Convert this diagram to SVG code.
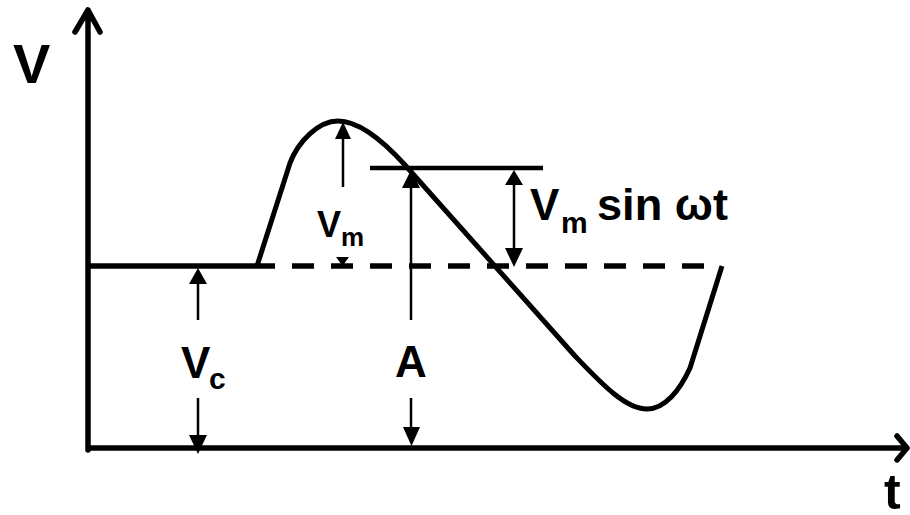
<svg xmlns="http://www.w3.org/2000/svg" width="910" height="515" viewBox="0 0 910 515">
<style>
.axis{fill:none;stroke:#000;stroke-width:5.5;stroke-linecap:round;stroke-linejoin:round}
.thick{fill:none;stroke:#000;stroke-width:5}
.thin{fill:none;stroke:#000;stroke-width:2.5}
.head{fill:#000;stroke:none}
.lbl{font-family:"Liberation Sans",Arial,sans-serif;font-weight:bold;fill:#000}
</style>
<rect width="910" height="515" fill="#fff"/>
<g id="axes">
<path class="axis" d="M88,450 L88,10 M75,32 L88,10 L100,32"/>
<path class="axis" d="M88,448 L906,448" style="stroke-linecap:butt"/>
<path class="axis" d="M897,436 L907,448 L897,460"/>
</g>
<g id="baseline">
<line class="thick" x1="88" y1="266" x2="275" y2="266" style="stroke-width:5.5"/>
<line class="thick" x1="292" y1="266" x2="705" y2="266" stroke-dasharray="22 17" style="stroke-width:5.5"/>
</g>
<g id="waveform">
<path class="thick" d="M257,266 L290,163 C298,142 318,121 338,121 C360,121 385,143 405,165 L575,356 C600,382 625,409 647,409 C665,409 680,390 690,368 L722,266"/>
</g>
<g id="level-line">
<line class="thick" x1="370" y1="168" x2="543" y2="168" style="stroke-width:4.5"/>
</g>
<g id="connectors">
<line class="thin" x1="343" y1="135" x2="343" y2="187"/>
<polygon class="head" points="343,122 335,139 351,139"/>
<polygon class="head" points="336,257 349,257 342.5,266"/>
<line class="thin" x1="411" y1="185" x2="411" y2="320"/>
<polygon class="head" points="411,170 402,188 420,188"/>
<line class="thin" x1="411" y1="398" x2="411" y2="430"/>
<polygon class="head" points="403,427 420,427 411.5,446"/>
<line class="thin" x1="198" y1="280" x2="198" y2="320"/>
<polygon class="head" points="198,268 189,284 207,284"/>
<line class="thin" x1="198" y1="398" x2="198" y2="438"/>
<polygon class="head" points="189,435 207,435 198,454"/>
<line class="thin" x1="514" y1="182" x2="514" y2="252"/>
<polygon class="head" points="514,170 505,185 523,185"/>
<polygon class="head" points="505,248 523,248 514,267"/>
</g>
<g id="label-V">
<text class="lbl" x="13" y="83" font-size="56">V</text>
</g>
<g id="label-t">
<text class="lbl" x="884" y="509" font-size="50">t</text>
</g>
<g id="label-Vm">
<text class="lbl" x="317" y="237" font-size="36">V</text>
<text class="lbl" x="341" y="246" font-size="26">m</text>
</g>
<g id="label-Vmsin">
<text class="lbl" x="530" y="220" font-size="44">V</text>
<text class="lbl" x="561" y="233" font-size="30">m</text>
<text class="lbl" x="597" y="220" font-size="44" textLength="131" lengthAdjust="spacingAndGlyphs">sin ωt</text>
</g>
<g id="label-Vc">
<text class="lbl" x="181" y="378" font-size="44">V</text>
<text class="lbl" x="209" y="389" font-size="30">c</text>
</g>
<g id="label-A">
<text class="lbl" x="411" y="377" font-size="44" text-anchor="middle">A</text>
</g>
</svg>
